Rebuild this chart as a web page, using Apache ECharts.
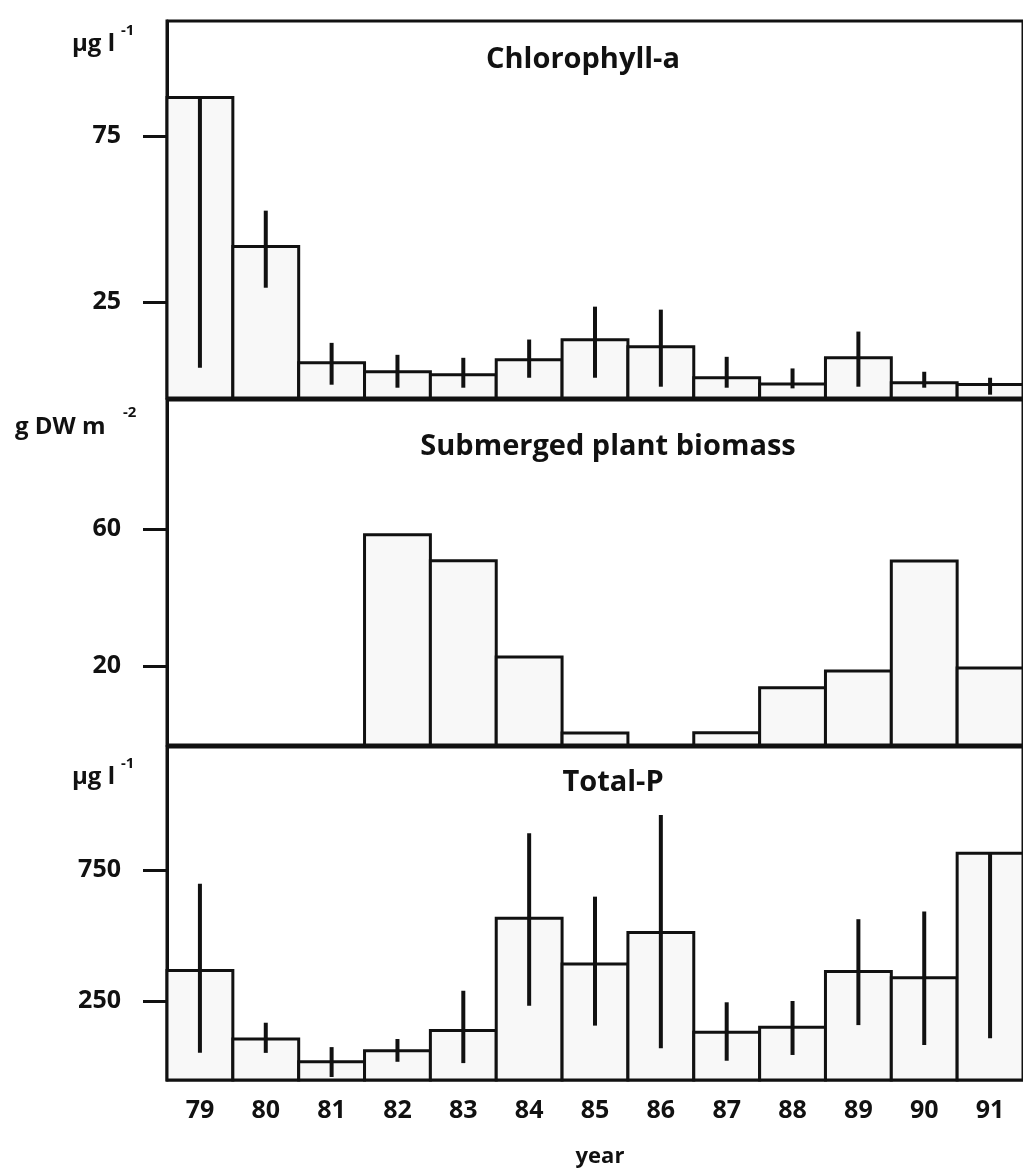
<!DOCTYPE html>
<html>
<head>
<meta charset="utf-8">
<script src="https://cdn.jsdelivr.net/npm/echarts@6/dist/echarts.min.js"></script>
<style>
  html, body { margin: 0; padding: 0; background: #fff; }
  #chart { width: 1023px; height: 1171px; }
</style>
</head>
<body>
<div id="chart"></div>
<script>
// years on the x axis
var years = ['79', '80', '81', '82', '83', '84', '85', '86', '87', '88', '89', '90', '91'];

// Chlorophyll-a (µg l-1): mean, error low, error high
var chlValues = [86.6, 41.7, 6.7, 4.0, 3.1, 7.6, 13.6, 11.5, 2.2, 0.3, 8.2, 0.7, 0.2];
var chlLow = [5.2, 29.3, 0.1, -0.8, -0.8, 2.2, 2.2, -0.5, -0.8, -1.0, -0.5, -0.8, -2.9];
var chlHigh = [86.6, 52.5, 12.7, 9.1, 8.2, 13.7, 23.6, 22.7, 8.5, 5.0, 16.1, 4.0, 2.2];

// Submerged plant biomass (g DW m-2), null = no bar
var bioValues = [null, null, null, 58.4, 50.8, 22.6, 0.3, null, 0.4, 13.6, 18.5, 50.7, 19.4];

// Total-P (µg l-1)
var tpValues = [366, 105, 18, 60, 137, 566, 391, 511, 131, 150, 362, 339, 814];
var tpLow = [52, 52, -40, 18, 13, 232, 156, 70, 22, 44, 158, 82, 108];
var tpHigh = [697, 167, 74, 105, 289, 890, 648, 960, 245, 250, 562, 591, 814];

// tick labels of each panel
var chlTicks = [25, 75];
var bioTicks = [20, 60];
var tpTicks = [250, 750];

var chart = echarts.init(document.getElementById('chart'));

var FONT = '"Open Sans", Lato, sans-serif';
var INK = '#111';

// bar drawn from the bottom of the panel up to the value
function renderBar(params, api) {
    var v = api.value(1);
    if (v == null || isNaN(v)) {
        return;
    }
    var size = api.size([1, 0]);
    var top = api.coord([api.value(0), v]);
    var bottom = params.coordSys.y + params.coordSys.height;
    return {
        type: 'rect',
        shape: {
            x: top[0] - size[0] / 2,
            y: top[1],
            width: size[0],
            height: bottom - top[1]
        },
        style: {
            fill: '#f8f8f8',
            stroke: INK,
            lineWidth: 3
        }
    };
}

// vertical error line
function renderErr(params, api) {
    var lo = api.coord([api.value(0), api.value(1)]);
    var hi = api.coord([api.value(0), api.value(2)]);
    return {
        type: 'line',
        shape: { x1: lo[0], y1: lo[1], x2: hi[0], y2: hi[1] },
        style: { stroke: INK, lineWidth: 4 }
    };
}

function barData(vals) {
    return vals.map(function(v, i) {
        return [i, v];
    });
}

function errData(lo, hi) {
    return lo.map(function(v, i) {
        return [i, v, hi[i]];
    });
}

function makeY(idx, min, max, ticks) {
    return {
        type: 'value',
        gridIndex: idx,
        min: min,
        max: max,
        splitLine: { show: false },
        axisLine: { show: true, lineStyle: { color: INK, width: 3 } },
        axisTick: {
            show: true,
            length: 24,
            customValues: ticks,
            lineStyle: { color: INK, width: 3 }
        },
        axisLabel: {
            customValues: ticks,
            margin: 46,
            color: INK,
            fontFamily: FONT,
            fontWeight: 'bold',
            fontSize: 25
        }
    };
}

function makeX(idx, showLabels) {
    return {
        type: 'category',
        gridIndex: idx,
        data: years,
        boundaryGap: true,
        axisLine: { show: false },
        axisTick: { show: false },
        axisLabel: {
            show: showLabels,
            margin: 18,
            color: INK,
            fontFamily: FONT,
            fontWeight: 'bold',
            fontSize: 25
        }
    };
}

function gridBox(top, height) {
    return {
        left: 167,
        width: 861,
        top: top,
        height: height,
        show: true,
        borderColor: INK,
        borderWidth: 3,
        backgroundColor: 'transparent'
    };
}

function label(text, x, y, size, align) {
    return {
        type: 'text',
        x: x,
        y: y,
        z: 50,
        style: {
            text: text,
            font: 'bold ' + size + 'px ' + FONT,
            fill: INK,
            align: align || 'left',
            verticalAlign: 'middle',
            textAlign: align || 'left',
            textVerticalAlign: 'middle'
        }
    };
}

var option = {
    backgroundColor: '#fff',
    animation: false,
    grid: [gridBox(21, 377), gridBox(400, 345), gridBox(747, 333)],
    xAxis: [makeX(0, false), makeX(1, false), makeX(2, true)],
    yAxis: [
        makeY(0, -3.9, 109.6, chlTicks),
        makeY(1, -3.2, 97.9, bioTicks),
        makeY(2, -51.5, 1219, tpTicks)
    ],
    series: [
        { type: 'custom', xAxisIndex: 0, yAxisIndex: 0, renderItem: renderBar, data: barData(chlValues) },
        { type: 'custom', xAxisIndex: 0, yAxisIndex: 0, renderItem: renderErr, data: errData(chlLow, chlHigh), z: 3 },
        { type: 'custom', xAxisIndex: 1, yAxisIndex: 1, renderItem: renderBar, data: barData(bioValues) },
        { type: 'custom', xAxisIndex: 2, yAxisIndex: 2, renderItem: renderBar, data: barData(tpValues) },
        { type: 'custom', xAxisIndex: 2, yAxisIndex: 2, renderItem: renderErr, data: errData(tpLow, tpHigh), z: 3 }
    ],
    graphic: [
        // panel titles
        label('Chlorophyll-a', 583, 60, 29, 'center'),
        label('Submerged plant biomass', 608, 447, 29, 'center'),
        label('Total-P', 613, 783, 29, 'center'),
        // units
        label('µg l', 72, 44, 24),
        label('-1', 121, 31, 15),
        label('g DW m', 15, 427, 24),
        label('-2', 123, 413, 15),
        label('µg l', 72, 777, 24),
        label('-1', 121, 764, 15),
        // x axis name
        label('year', 600, 1157, 22, 'center')
    ]
};

chart.setOption(option);
</script>
</body>
</html>
